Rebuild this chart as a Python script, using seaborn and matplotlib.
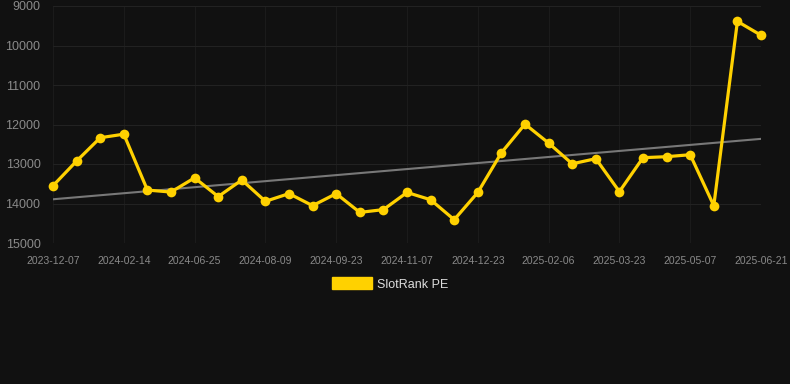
import numpy as np
import pandas as pd
import seaborn as sns
import matplotlib.pyplot as plt
from matplotlib.patches import Patch

# SlotRank PE over time (rank, lower is better -> inverted axis)
dates = ['2023-12-07', '', '', '2024-02-14', '', '', '2024-06-25', '', '',
         '2024-08-09', '', '', '2024-09-23', '', '', '2024-11-07', '', '',
         '2024-12-23', '', '', '2025-02-06', '', '', '2025-03-23', '', '',
         '2025-05-07', '', '', '2025-06-21']
rank = [13550, 12925, 12335, 12245, 13660, 13710, 13350, 13825, 13405,
        13945, 13750, 14055, 13750, 14225, 14155, 13720, 13905, 14410,
        13720, 12715, 11990, 12470, 12995, 12865, 13700, 12840, 12815,
        12765, 14055, 9390, 9740]
y_ticks = [9000, 10000, 11000, 12000, 13000, 14000, 15000]

df = pd.DataFrame({'idx': range(len(rank)), 'rank': rank})

# linear trend
coef = np.polyfit(df['idx'], df['rank'], 1)
df['trend'] = np.polyval(coef, df['idx'])

bg = '#111111'
gold = '#FFD100'

sns.set_style('dark')
plt.rcParams['font.family'] = ['Liberation Sans', 'DejaVu Sans']
fig = plt.figure(figsize=(7.9, 3.84), dpi=100, facecolor=bg)
ax = fig.add_axes([53 / 790, 1 - 243 / 384, (761 - 53) / 790, (243 - 6) / 384])
ax.set_facecolor(bg)

sns.lineplot(data=df, x='idx', y='trend', ax=ax, color='#787878', linewidth=1.5)
sns.lineplot(data=df, x='idx', y='rank', ax=ax, color=gold, linewidth=2.3,
             marker='o', markersize=7, markeredgewidth=0, markeredgecolor=gold,
             clip_on=False)

ax.set_xlim(0, len(rank) - 1)
ax.set_ylim(15000, 9000)
ax.set_yticks(y_ticks)
ax.set_yticklabels([str(t) for t in y_ticks])
major = [i for i, d in enumerate(dates) if d]
ax.set_xticks(major)
ax.set_xticklabels([dates[i] for i in major])
ax.tick_params(axis='y', colors='#8a8a8a', labelsize=9, length=0, pad=9)
ax.tick_params(axis='x', colors='#8a8a8a', labelsize=7.5, length=0, pad=9)
ax.grid(True, axis='y', color='#222222', linewidth=0.8)
ax.grid(True, axis='x', color='#1b1b1b', linewidth=0.8)
ax.set_xlabel('')
ax.set_ylabel('')
for s in ax.spines.values():
    s.set_visible(False)

handle = Patch(facecolor=gold, edgecolor=gold)
fig.legend([handle], ['SlotRank PE'], loc='center', bbox_to_anchor=(390 / 790, 1 - 284 / 384),
           frameon=False, handlelength=3.2, handleheight=1.1, fontsize=9,
           labelcolor='#dddddd', handletextpad=0.45)

fig.savefig('out.png', facecolor=bg)
